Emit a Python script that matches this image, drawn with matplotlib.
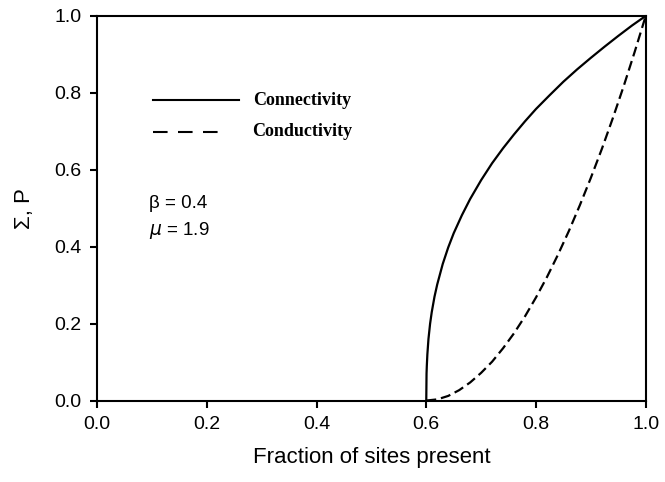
import matplotlib
matplotlib.use("Agg")
import matplotlib.pyplot as plt

# connectivity (P) vs fraction of sites present
conn_x = [0.600, 0.6005, 0.601, 0.602, 0.604, 0.607, 0.610, 0.615, 0.620, 0.630,
          0.640, 0.650, 0.665, 0.680, 0.700, 0.720, 0.740, 0.760, 0.780, 0.800,
          0.825, 0.850, 0.875, 0.900, 0.925, 0.950, 0.975, 1.000]
conn_y = [0.000, 0.070, 0.090, 0.120, 0.160, 0.200, 0.230, 0.270, 0.302, 0.355,
          0.398, 0.435, 0.482, 0.524, 0.573, 0.617, 0.656, 0.692, 0.726, 0.758,
          0.794, 0.829, 0.861, 0.891, 0.920, 0.948, 0.975, 1.000]

# conductivity (Sigma) vs fraction of sites present
cond_x = [0.600, 0.620, 0.640, 0.660, 0.680, 0.700, 0.720, 0.740, 0.760, 0.780,
          0.800, 0.820, 0.840, 0.860, 0.880, 0.900, 0.920, 0.940, 0.960, 0.980,
          1.000]
cond_y = [0.000, 0.003, 0.012, 0.027, 0.047, 0.072, 0.101, 0.136, 0.175, 0.219,
          0.268, 0.321, 0.379, 0.441, 0.508, 0.579, 0.654, 0.734, 0.818, 0.907,
          1.000]

ticks = [0.0, 0.2, 0.4, 0.6, 0.8, 1.0]
tick_labels = ["0.0", "0.2", "0.4", "0.6", "0.8", "1.0"]

plt.rcParams["font.family"] = ["Liberation Sans", "DejaVu Sans"]

fig = plt.figure(figsize=(6.65, 4.82), dpi=100)
ax = fig.add_axes([0.146, 0.169, 0.825, 0.798])

ax.plot(conn_x, conn_y, color="k", lw=1.6)
ax.plot(cond_x, cond_y, color="k", lw=1.6, dashes=(4.5, 2.2))

ax.set_xlim(0, 1)
ax.set_ylim(0, 1)
ax.set_xticks(ticks)
ax.set_xticklabels(tick_labels)
ax.set_yticks(ticks)
ax.set_yticklabels(tick_labels)
ax.tick_params(direction="out", length=5, width=1.5, labelsize=14, pad=6,
               top=False, right=False)
for s in ax.spines.values():
    s.set_linewidth(1.5)

ax.set_xlabel("Fraction of sites present", fontsize=16, labelpad=10)
ax.set_ylabel("\u03a3, P", fontsize=16, labelpad=14)

# hand-drawn key
tr = ax.transAxes
ax.plot([0.101, 0.258], [0.781, 0.781], color="k", lw=1.5, transform=tr)
ax.plot([0.101, 0.238], [0.699, 0.699], color="k", lw=1.5, dashes=(7, 5),
        transform=tr)
ax.text(0.285, 0.781, "Connectivity", transform=tr, va="center",
        family="Liberation Serif", weight="bold", fontsize=13)
ax.text(0.283, 0.699, "Conductivity", transform=tr, va="center",
        family="Liberation Serif", weight="bold", fontsize=13)

ax.text(0.095, 0.50, "\u03b2 = 0.4", transform=tr, fontsize=13.5)
ax.text(0.095, 0.43, "$\\mu$ = 1.9", transform=tr, fontsize=13.5)

fig.savefig("out.png", dpi=100)
